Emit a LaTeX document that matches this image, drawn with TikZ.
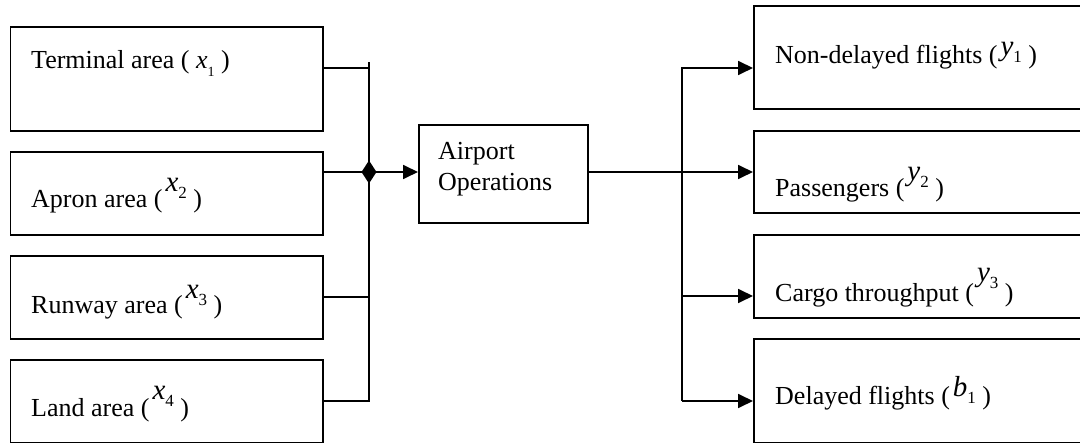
\documentclass[tikz,border=0pt]{standalone}
\usepackage{fontspec}
\setmainfont{Liberation Serif}
\usetikzlibrary{arrows.meta,calc}
% raised variable with subscript: #1 letter, #2 index, #3 raise
\newcommand\rvar[3]{\hspace{3pt}\raisebox{#3}{\fontsize{29}{29}\selectfont\textit{#1}\raisebox{-7pt}{\fontsize{17}{17}\selectfont #2}}}
\tikzset{
  box/.style={draw,line width=1.8pt,inner sep=0pt,anchor=north west},
  lbl/.style={anchor=base west,inner sep=0pt,font=\fontsize{26}{31}\selectfont},
  conn/.style={line width=1.8pt},
  arr/.style={conn,-{Triangle[length=15pt,width=14pt]}}
}
\begin{document}
\begin{tikzpicture}[x=1pt,y=-1pt]
\clip (0,0) rectangle (1080,443);
\fill[white] (0,0) rectangle (1080,443);
% left boxes
\node[box,minimum width=312.5pt,minimum height=104pt] (a1) at (9.5,26) {};
\node[box,minimum width=312.5pt,minimum height=83pt] (a2) at (9.5,151) {};
\node[box,minimum width=312.5pt,minimum height=83pt] (a3) at (9.5,255) {};
\node[box,minimum width=312.5pt,minimum height=83pt] (a4) at (9.5,359) {};
% centre box
\node[box,minimum width=169pt,minimum height=98pt] (op) at (418,124) {};
% right boxes
\node[box,minimum width=360pt,minimum height=103pt] (b1) at (753,5) {};
\node[box,minimum width=360pt,minimum height=82pt] (b2) at (753,130) {};
\node[box,minimum width=360pt,minimum height=83pt] (b3) at (753,234) {};
\node[box,minimum width=360pt,minimum height=104pt] (b4) at (753,338) {};
% labels
\node[lbl] (ta1) at (31,69) {Terminal area ( \textit{x}\raisebox{-8pt}{\fontsize{14}{14}\selectfont 1} )};
\node[lbl] (ta2) at (31,208) {Apron area (\rvar{x}{2}{16pt} )};
\node[lbl] (ta3) at (31,314) {Runway area (\rvar{x}{3}{15pt} )};
\node[lbl] (ta4) at (31,417) {Land area (\rvar{x}{4}{17pt} )};
\node[lbl] (top1) at (438,160) {Airport};
\node[lbl] (top2) at (438,191) {Operations};
\node[lbl] (tb1) at (775,64) {Non-delayed flights (\rvar{y}{1}{8pt} )};
\node[lbl] (tb2) at (775,197) {Passengers (\rvar{y}{2}{16pt} )};
\node[lbl] (tb3) at (775,302) {Cargo throughput (\rvar{y}{3}{20pt} )};
\node[lbl] (tb4) at (775,405) {Delayed flights (\rvar{b}{1}{8pt} )};
% left bus
\coordinate (Ltop) at (369,62);
\coordinate (L1) at (369,68);
\coordinate (J) at (369,172);
\coordinate (L3) at (369,297);
\coordinate (Lbot) at (369,401);
\draw[conn] (a4.east|-Lbot) -- (Lbot) -- (Ltop);
\draw[conn] (a1.east|-L1) -- (L1);
\draw[conn] (a3.east|-L3) -- (L3);
\draw[arr] (a2.east|-J) -- (op.west|-J);
\fill (J) +(0,-11.5) -- +(7.5,0) -- +(0,11.5) -- +(-7.5,0) -- cycle;
% right bus
\coordinate (R1) at (682,68);
\coordinate (R3) at (682,296);
\coordinate (R4) at (682,401);
\draw[arr] (R4) -- (R1) -- (b1.west|-R1);
\draw[arr] (op.east|-J) -- (b2.west|-J);
\draw[arr] (R3) -- (b3.west|-R3);
\draw[arr] (R4) -- (b4.west|-R4);
\end{tikzpicture}
\end{document}
